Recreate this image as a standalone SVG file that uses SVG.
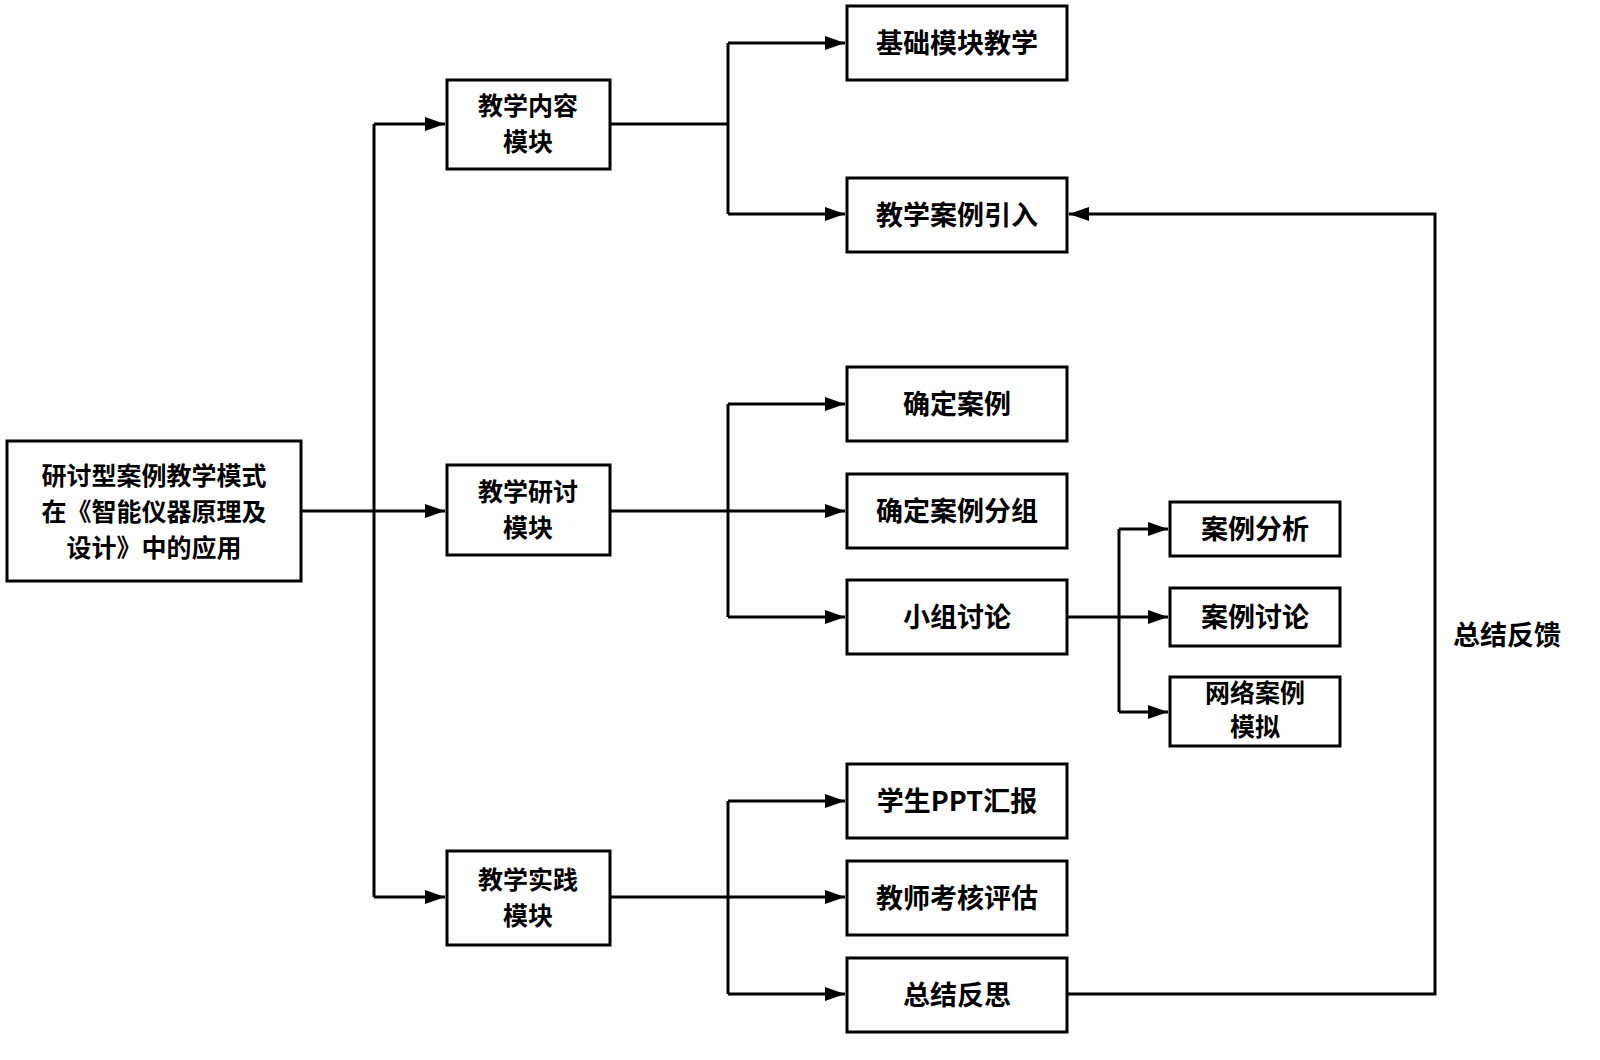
<svg xmlns="http://www.w3.org/2000/svg" width="1600" height="1060" viewBox="0 0 1600 1060">
<style>
.box{fill:#fff;stroke:#000;stroke-width:3}
.t{font-family:"Noto Sans CJK SC","Noto Sans",sans-serif;font-weight:bold;font-size:27px;fill:#000;text-anchor:middle}
.m{font-size:25px}
.ln{fill:none;stroke:#000;stroke-width:3}
</style>
<defs>
<marker id="ah" viewBox="0 0 20 14" refX="20" refY="7" markerWidth="20" markerHeight="14" markerUnits="userSpaceOnUse" orient="auto">
<path d="M0,0 L20,7 L0,14 Z" fill="#000"/>
</marker>
</defs>
<rect width="1600" height="1060" fill="#fff"/>
<g id="connectors">
<path class="ln" d="M301,511 H445" marker-end="url(#ah)"/>
<path class="ln" d="M374,124 V897"/>
<path class="ln" d="M374,124 H445" marker-end="url(#ah)"/>
<path class="ln" d="M374,897 H445" marker-end="url(#ah)"/>
<path class="ln" d="M610,124 H728"/>
<path class="ln" d="M728,43 V214"/>
<path class="ln" d="M728,43 H845" marker-end="url(#ah)"/>
<path class="ln" d="M728,214 H845" marker-end="url(#ah)"/>
<path class="ln" d="M610,511 H845" marker-end="url(#ah)"/>
<path class="ln" d="M728,404 V617"/>
<path class="ln" d="M728,404 H845" marker-end="url(#ah)"/>
<path class="ln" d="M728,617 H845" marker-end="url(#ah)"/>
<path class="ln" d="M610,897 H845" marker-end="url(#ah)"/>
<path class="ln" d="M728,801 V994"/>
<path class="ln" d="M728,801 H845" marker-end="url(#ah)"/>
<path class="ln" d="M728,994 H845" marker-end="url(#ah)"/>
<path class="ln" d="M1067,617 H1168" marker-end="url(#ah)"/>
<path class="ln" d="M1119,529 V712"/>
<path class="ln" d="M1119,529 H1168" marker-end="url(#ah)"/>
<path class="ln" d="M1119,712 H1168" marker-end="url(#ah)"/>
<path class="ln" d="M1067,994 H1435 V214 H1069" marker-end="url(#ah)"/>
<text class="t" x="1507" y="645">总结反馈</text>
</g>
<g id="main"><rect class="box" x="7" y="441" width="294" height="140"/>
<text class="t m" x="154" y="485">研讨型案例教学模式</text><text class="t m" x="154" y="521">在《智能仪器原理及</text><text class="t m" x="154" y="557">设计》中的应用</text></g>
<g id="m1"><rect class="box" x="447" y="80" width="163" height="89"/><text class="t m" x="528" y="115">教学内容</text><text class="t m" x="528" y="151">模块</text></g>
<g id="m2"><rect class="box" x="447" y="465" width="163" height="90"/><text class="t m" x="528" y="501">教学研讨</text><text class="t m" x="528" y="537">模块</text></g>
<g id="m3"><rect class="box" x="447" y="851" width="163" height="94"/><text class="t m" x="528" y="889">教学实践</text><text class="t m" x="528" y="925">模块</text></g>
<g id="n1"><rect class="box" x="847" y="6" width="220" height="74"/><text class="t" x="957" y="53">基础模块教学</text></g>
<g id="n2"><rect class="box" x="847" y="178" width="220" height="74"/><text class="t" x="957" y="225">教学案例引入</text></g>
<g id="n3"><rect class="box" x="847" y="367" width="220" height="74"/><text class="t" x="957" y="414">确定案例</text></g>
<g id="n4"><rect class="box" x="847" y="474" width="220" height="74"/><text class="t" x="957" y="521">确定案例分组</text></g>
<g id="n5"><rect class="box" x="847" y="580" width="220" height="74"/><text class="t" x="957" y="627">小组讨论</text></g>
<g id="n6"><rect class="box" x="847" y="764" width="220" height="74"/><text class="t" x="957" y="811">学生PPT汇报</text></g>
<g id="n7"><rect class="box" x="847" y="861" width="220" height="74"/><text class="t" x="957" y="908">教师考核评估</text></g>
<g id="n8"><rect class="box" x="847" y="958" width="220" height="74"/><text class="t" x="957" y="1005">总结反思</text></g>
<g id="s1"><rect class="box" x="1170" y="502" width="170" height="54"/><text class="t" x="1255" y="539">案例分析</text></g>
<g id="s2"><rect class="box" x="1170" y="588" width="170" height="58"/><text class="t" x="1255" y="627">案例讨论</text></g>
<g id="s3"><rect class="box" x="1170" y="677" width="170" height="69"/><text class="t m" x="1255" y="702">网络案例</text><text class="t m" x="1255" y="736">模拟</text></g>
</svg>
